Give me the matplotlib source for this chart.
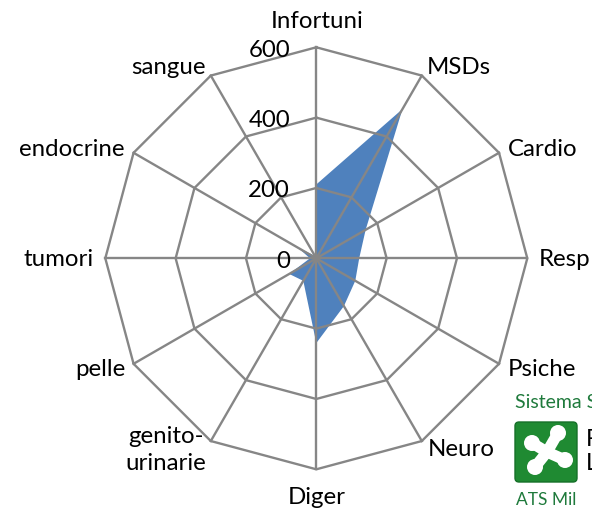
import numpy as np
import matplotlib
matplotlib.use('Agg')
import matplotlib.pyplot as plt
from matplotlib.patches import FancyBboxPatch, Circle

categories = ['Infortuni', 'MSDs', 'Cardio', 'Resp', 'Psiche', 'Neuro', 'Diger',
              'genito-\nurinarie', 'pelle', 'tumori', 'endocrine', 'sangue']
values = [210, 490, 162, 122, 128, 157, 241, 74, 89, 18, 60, 8]
rings = [200, 400, 600]
ring_labels = ['0', '200', '400', '600']

W, H = 592, 509
cx, cy, R = 316.3, 258.3, 211

plt.rcParams['font.family'] = ['Lato', 'DejaVu Sans']
grey = '#868686'
fs = 17.3

fig = plt.figure(figsize=(W / 100, H / 100), dpi=100)
ax = fig.add_axes([(cx - R) / W, (H - cy - R) / H, 2 * R / W, 2 * R / H], polar=True)
ax.set_theta_zero_location('N')
ax.set_theta_direction(-1)
ax.set_ylim(0, 600)
ax.axis('off')

angles = np.arange(len(categories)) * 2 * np.pi / len(categories)
closed = np.append(angles, angles[0])

ax.fill(closed, values + values[:1], color='#4f81bd', lw=0, zorder=2)

for r in rings:
    ax.plot(closed, [r] * len(closed), color=grey, lw=1.7, zorder=3, clip_on=False)
for a in angles:
    ax.plot([a, a], [0, 600], color=grey, lw=1.7, zorder=3, clip_on=False)

# category labels, placed by hand in pixels
label_pos = [(317, 21), (459, 67), (543, 149), (565, 259), (542, 369), (461, 450),
             (317, 497), (166, 450), (100, 369), (59, 259), (72, 149), (168, 67)]
for name, (x, y) in zip(categories, label_pos):
    fig.text(x / W, 1 - y / H, name, ha='center', va='center', fontsize=fs,
             color='black', linespacing=1.35)

# radial tick labels
for lab, r in zip(ring_labels, [0] + rings):
    fig.text(290 / W, 1 - (cy - r * R / 600 + 3) / H, lab, ha='right', va='center',
             fontsize=fs, color='black', zorder=5)

# logo in the corner, cut by the right edge like the reference
logo = fig.add_axes([0, 0, 1, 1], facecolor='none')
logo.set_xlim(0, W)
logo.set_ylim(H, 0)
logo.axis('off')
logo.add_patch(FancyBboxPatch((515, 422), 62, 60, boxstyle='round,pad=0,rounding_size=4',
                              fc='#1f8a32', ec='#157028', lw=1))
arm_x = [532, 558, 535, 565]
arm_y = [443, 433, 467, 460]
mid_x, mid_y = 547, 452
for x, y in zip(arm_x, arm_y):
    logo.add_patch(Circle((x, y), 8, fc='white', ec='none'))
    logo.plot([x, mid_x], [y, mid_y], color='white', lw=8, solid_capstyle='round')
logo.text(515, 403, 'Sistema S', color='#1f7a3c', fontsize=14, ha='left', va='center')
logo.text(586, 440, 'R', color='black', fontsize=17, ha='left', va='center')
logo.text(586, 463, 'L', color='black', fontsize=17, ha='left', va='center')
logo.text(516, 500, 'ATS Mil', color='#1f7a3c', fontsize=12.5, ha='left', va='center')

fig.savefig('out.png', dpi=100)
